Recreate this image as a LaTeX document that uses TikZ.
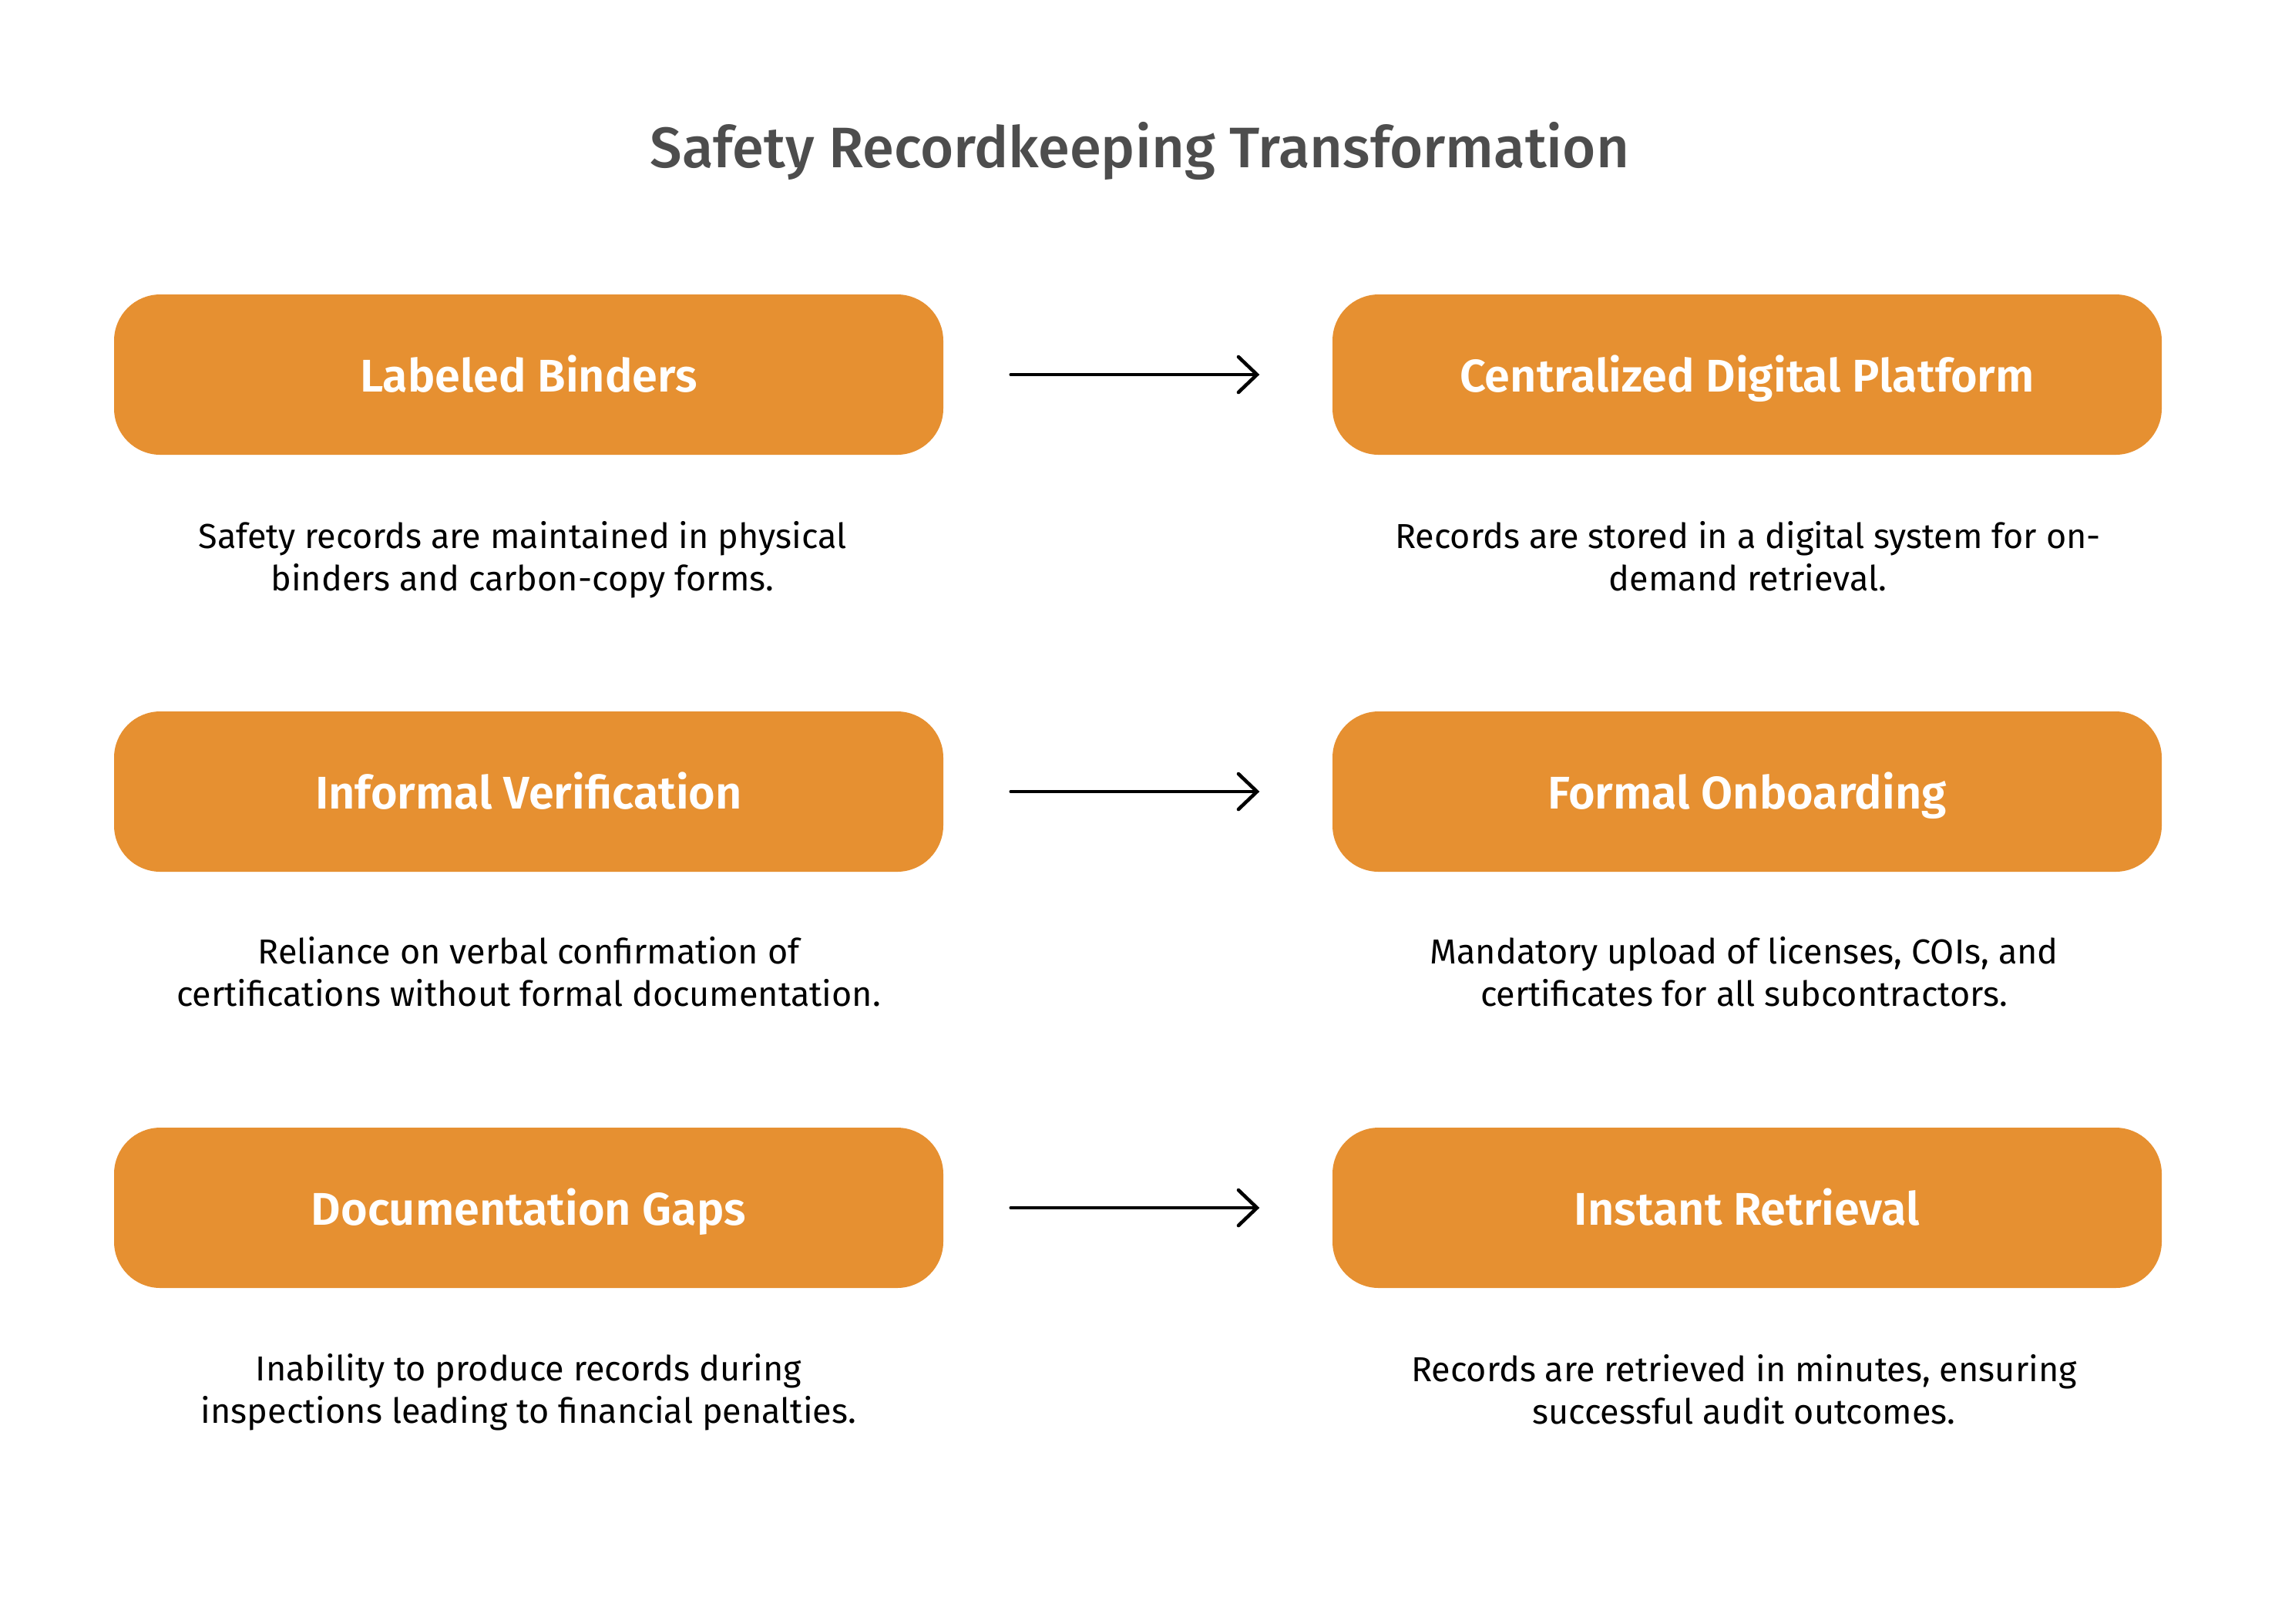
\documentclass[tikz,border=0pt]{standalone}
\usepackage{fontspec}
\setmainfont{Fira Sans}
\newfontfamily\semiboldfont{Fira Sans SemiBold}
\newfontfamily\mediumfont{Fira Sans Medium}
\usetikzlibrary{arrows.meta}
\definecolor{boxorange}{HTML}{E69031}
\definecolor{titlegray}{HTML}{4D4D4D}
\tikzset{
    stagebox/.style={draw=none,fill=boxorange,rectangle,rounded corners=0.6cm,
        minimum width=10.76cm,minimum height=2.08cm,text=white,
        text height=0.45cm,text depth=0cm,
        font=\fontsize{16.9}{20}\selectfont\semiboldfont},
    stagenote/.style={align=center,text=black,font=\fontsize{12.8}{15.6}\selectfont},
    shiftarrow/.style={line width=1.3pt,line cap=round,
        -{Straight Barb[length=2.4mm,width=4.6mm,line cap=round]},
        shorten <=0.87cm,shorten >=0.94cm}
}
\begin{document}
\begin{tikzpicture}
        \useasboundingbox (0,0) rectangle (29.52,-21.06);
        %% Title
        \node[text=titlegray,font=\fontsize{21.1}{26}\selectfont\mediumfont] (title) at (14.79,-1.96) {Safety Recordkeeping Transformation};
        %% Before
        \node[stagebox] (binders) at (6.86,-4.86) {Labeled Binders};
        \node[stagebox] (informal) at (6.86,-10.27) {Informal Verification};
        \node[stagebox] (gaps) at (6.86,-15.67) {Documentation Gaps};
        %% After
        \node[stagebox] (platform) at (22.67,-4.86) {Centralized Digital Platform};
        \node[stagebox] (onboarding) at (22.67,-10.27) {Formal Onboarding};
        \node[stagebox] (retrieval) at (22.67,-15.67) {Instant Retrieval};
        %% Notes
        \node[stagenote] (bindersnote) at (6.78,-7.26) {Safety records are maintained in physical\\binders and carbon-copy forms.};
        \node[stagenote] (informalnote) at (6.86,-12.61) {Reliance on verbal confirmation of\\certifications without formal documentation.};
        \node[stagenote] (gapsnote) at (6.86,-18.06) {Inability to produce records during\\inspections leading to financial penalties.};
        \node[stagenote] (platformnote) at (22.68,-7.22) {Records are stored in a digital system for on-\\demand retrieval.};
        \node[stagenote] (onboardingnote) at (22.63,-12.61) {Mandatory upload of licenses, COIs, and\\certificates for all subcontractors.};
        \node[stagenote] (retrievalnote) at (22.63,-18.03) {Records are retrieved in minutes, ensuring\\successful audit outcomes.};
        %% Arrows
        \draw[shiftarrow] (binders) -- (platform);
        \draw[shiftarrow] (informal) -- (onboarding);
        \draw[shiftarrow] (gaps) -- (retrieval);
    \end{tikzpicture}
\end{document}
